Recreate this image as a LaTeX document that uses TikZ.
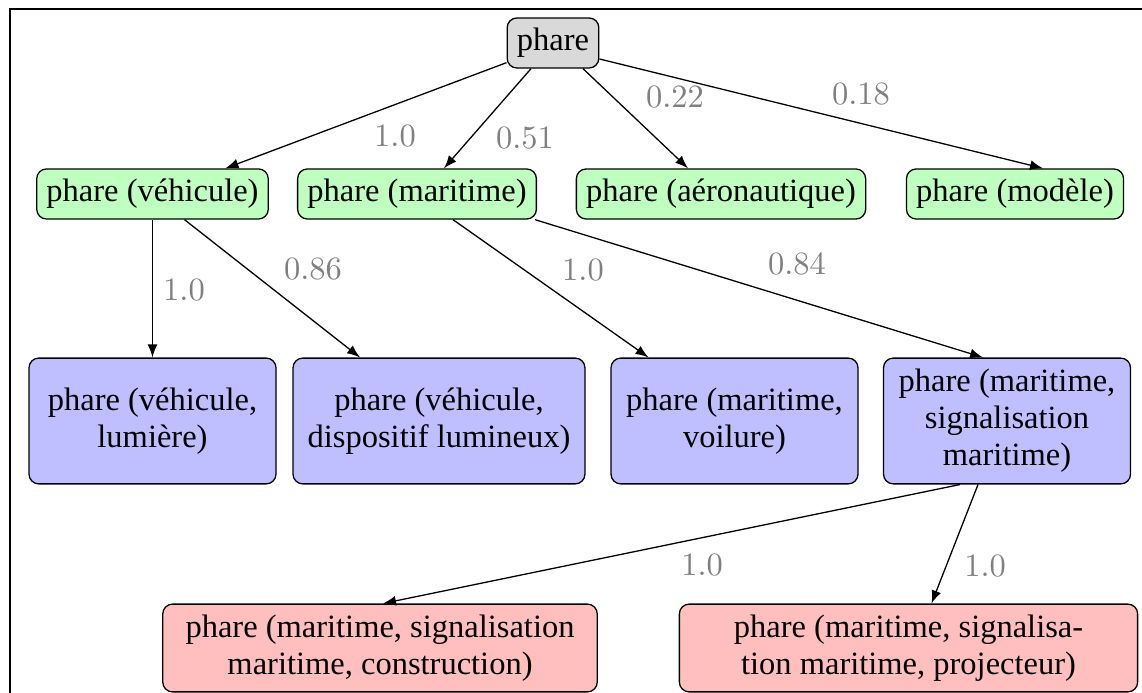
\documentclass[tikz,border=0pt]{standalone}
\usepackage{fontspec}
\setmainfont{Liberation Serif}
\usetikzlibrary{positioning,calc,arrows}
\tikzset{
boite/.style={draw, rounded corners=3pt, align=center, inner xsep=3pt, inner ysep=0pt, font=\fontsize{10}{11.4}\selectfont},
racine/.style={boite, fill=gray!30, minimum height=15.4pt},
sens/.style={boite, fill=green!25, minimum height=15.4pt},
sous/.style={boite, fill=blue!25, minimum height=38.7pt, minimum width=76pt, inner xsep=4.5pt},
feuille/.style={boite, fill=red!25, minimum height=27pt, inner xsep=7pt},
fleche/.style={->, >=latex},
poids/.style={text=gray, inner sep=1pt}
}

\begin{document}
\begin{tikzpicture}[x=0.3077pt, y=-0.3077pt]
\useasboundingbox (0,0) rectangle (1142,693);
\clip (0,0) rectangle (1142,693);
\draw (10,9) rectangle (1170,720);
% niveaux
\node[racine] (root) at (553,43) {phare};
\node[sens] (veh) at (152.5,194) {phare (véhicule)};
\node[sens] (mar) at (417,194) {phare (maritime)};
\node[sens] (aer) at (721,194) {phare (aéronautique)};
\node[sens] (mod) at (1015,194) {phare (modèle)};
\node[sous] (lum) at (152.5,421) {phare (véhicule,\\lumière)};
\node[sous] (disp) at (439,421) {phare (véhicule,\\dispositif lumineux)};
\node[sous] (voil) at (734.5,421) {phare (maritime,\\voilure)};
\node[sous] (sig) at (1007,421) {phare (maritime,\\signalisation\\maritime)};
\node[feuille] (con) at (380,648) {phare (maritime, signalisation\\maritime, construction)};
\node[feuille, minimum width=141pt] (proj) at (908.5,648) {phare (maritime, signalisa-\\tion maritime, projecteur)};
% aretes
\draw[fleche] ($(root.south west)+(0,-6)$) -- ($(veh.north)+(73,0)$);
\draw[fleche] ($(root.south)+(-22,0)$) -- ($(mar.north)+(27,0)$);
\draw[fleche] ($(root.south)+(30,0)$) -- ($(aer.north)+(-33,0)$);
\draw[fleche] ($(root.east)+(0,16)$) -- ($(mod.north)+(28,0)$);
\draw[fleche] (veh.south) -- (lum.north);
\draw[fleche] ($(veh.south)+(32,0)$) -- ($(disp.north)+(-79,0)$);
\draw[fleche] ($(mar.south)+(36,0)$) -- ($(voil.north)+(-86,0)$);
\draw[fleche] ($(mar.south east)+(-2,0)$) -- ($(sig.north)+(-24,0)$);
\draw[fleche] ($(sig.south)+(-47,0)$) -- ($(con.north)+(3,0)$);
\draw[fleche] ($(sig.south)+(-29,0)$) -- ($(proj.north)+(23,0)$);
% poids
\node[poids] (p1) at (395,136) {$1.0$};
\node[poids] (p2) at (525,138) {$0.51$};
\node[poids] (p3) at (675,97) {$0.22$};
\node[poids] (p4) at (861,94) {$0.18$};
\node[poids] (p5) at (184,290) {$1.0$};
\node[poids] (p6) at (313,269) {$0.86$};
\node[poids] (p7) at (583,270) {$1.0$};
\node[poids] (p8) at (797,264) {$0.84$};
\node[poids] (p9) at (702,565) {$1.0$};
\node[poids] (p10) at (985,566) {$1.0$};
\end{tikzpicture}
\end{document}
